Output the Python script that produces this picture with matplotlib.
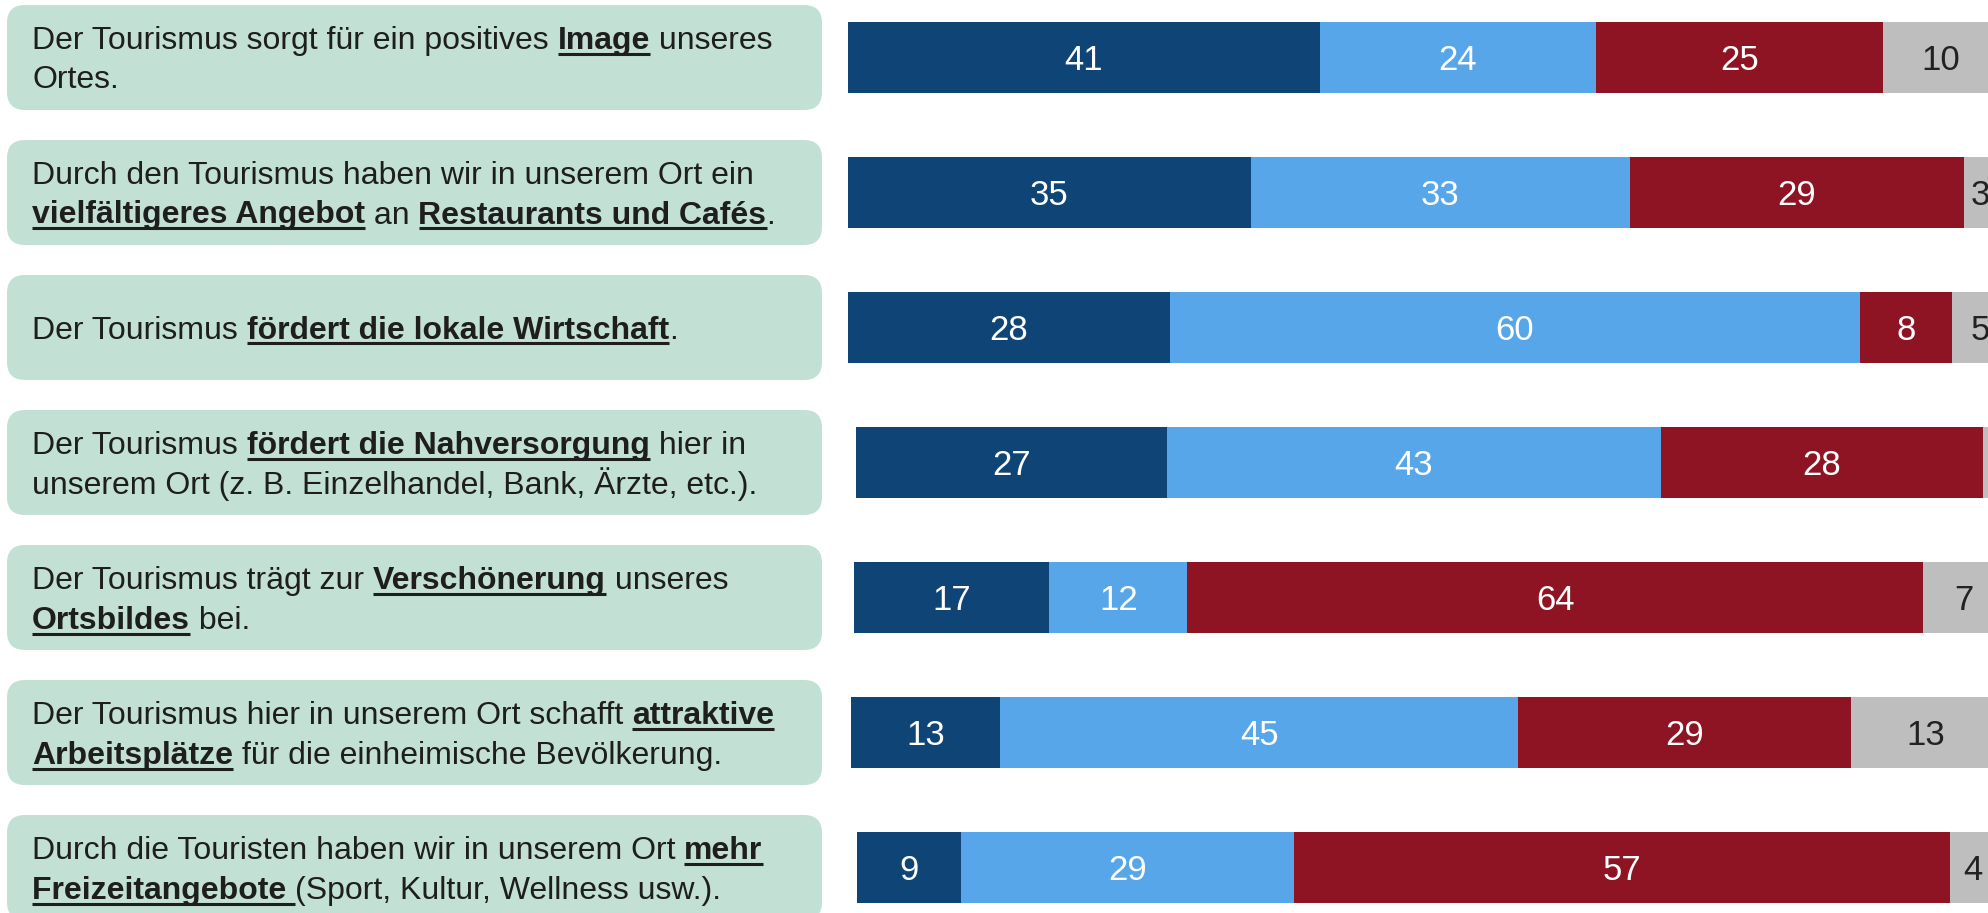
import re
import matplotlib
matplotlib.use("Agg")
import matplotlib.pyplot as plt
from matplotlib.patches import FancyBboxPatch

# statements, **...** = bold + underlined
statements = [
    "Der Tourismus sorgt für ein positives **Image** unseres\nOrtes.",
    "Durch den Tourismus haben wir in unserem Ort ein\n**vielfältigeres Angebot** an **Restaurants und Cafés**.",
    "Der Tourismus **fördert die lokale Wirtschaft**.",
    "Der Tourismus **fördert die Nahversorgung** hier in\nunserem Ort (z. B. Einzelhandel, Bank, Ärzte, etc.).",
    "Der Tourismus trägt zur **Verschönerung** unseres\n**Ortsbildes** bei.",
    "Der Tourismus hier in unserem Ort schafft **attraktive**\n**Arbeitsplätze** für die einheimische Bevölkerung.",
    "Durch die Touristen haben wir in unserem Ort **mehr**\n**Freizeitangebote **(Sport, Kultur, Wellness usw.).",
]

s1 = [41, 35, 28, 27, 17, 13, 9]
s2 = [24, 33, 60, 43, 12, 45, 29]
s3 = [25, 29, 8, 28, 64, 29, 57]
s4 = [10, 3, 5, 2, 7, 13, 4]

series = [s1, s2, s3, s4]
colors = ["#0F4476", "#57A6EA", "#8E1423", "#BEBEBE"]
txt_colors = ["white", "white", "white", "#222222"]

# small left offsets of the bars as in the original layout
row_shift = [0, 0, 0, 0.7, 0.5, 0.25, 0.8]

W, H = 1988, 913
ROW = 135.0           # px per row
C0 = 57.5             # px center of first row
PXU = 11.5            # px per percent
BAR_X0 = 848

fig = plt.figure(figsize=(W / 100, H / 100), dpi=100)
fig.patch.set_facecolor("white")

ylim = ((H - C0) / ROW, -C0 / ROW)
xmax = (W - BAR_X0) / PXU

ax = fig.add_axes([BAR_X0 / W, 0, (W - BAR_X0) / W, 1])
ax.set_xlim(0, xmax)
ax.set_ylim(*ylim)
ax.axis("off")

lax = fig.add_axes([0, 0, BAR_X0 / W, 1])
lax.set_xlim(0, BAR_X0)
lax.set_ylim(*ylim)
lax.axis("off")

rows = list(range(len(statements)))

# bars
left = [float(s) for s in row_shift]
for k, vals in enumerate(series):
    ax.barh(rows, vals, left=left, height=71 / ROW, color=colors[k], linewidth=0)
    for i, v in enumerate(vals):
        xc = left[i] + v / 2
        if xc < xmax:  # label hidden when the segment runs off the picture
            ax.text(xc, i + 12.5 / ROW, str(v), ha="center", va="baseline",
                    fontsize=25, color=txt_colors[k], family="Liberation Sans", clip_on=True)
        left[i] += v

# label boxes
FS = 23
renderer = fig.canvas.get_renderer()


def width(s, weight):
    t = lax.text(0, 0, "|" + s + "|", fontsize=FS, fontweight=weight, family="Liberation Sans")
    w = t.get_window_extent(renderer).width
    t.remove()
    t = lax.text(0, 0, "||", fontsize=FS, fontweight=weight, family="Liberation Sans")
    w0 = t.get_window_extent(renderer).width
    t.remove()
    return w - w0


for i, s in enumerate(statements):
    box = FancyBboxPatch((7, i - 52.5 / ROW), 815, 105 / ROW,
                         boxstyle="round,pad=0,rounding_size=18",
                         mutation_aspect=1 / ROW,
                         facecolor="#C2E0D3", edgecolor="none", zorder=1)
    lax.add_patch(box)
    lines = s.split("\n")
    if len(lines) == 1:
        bases = [i + 11 / ROW]
    else:
        bases = [i - 8.5 / ROW, i + 31 / ROW]
    for line, yb in zip(lines, bases):
        x = 32
        for j, part in enumerate(re.split(r"\*\*", line)):
            if not part:
                continue
            bold = j % 2 == 1
            weight = "bold" if bold else "normal"
            lax.text(x, yb, part, fontsize=FS, fontweight=weight, family="Liberation Sans",
                     color="#1E1E1E", ha="left", va="baseline", zorder=3)
            w = width(part, weight)
            if bold:
                lax.plot([x, x + w], [yb + 5 / ROW] * 2, color="#1E1E1E", lw=2.2,
                         solid_capstyle="butt", zorder=3)
            x += w

fig.savefig("out.png", dpi=100)
